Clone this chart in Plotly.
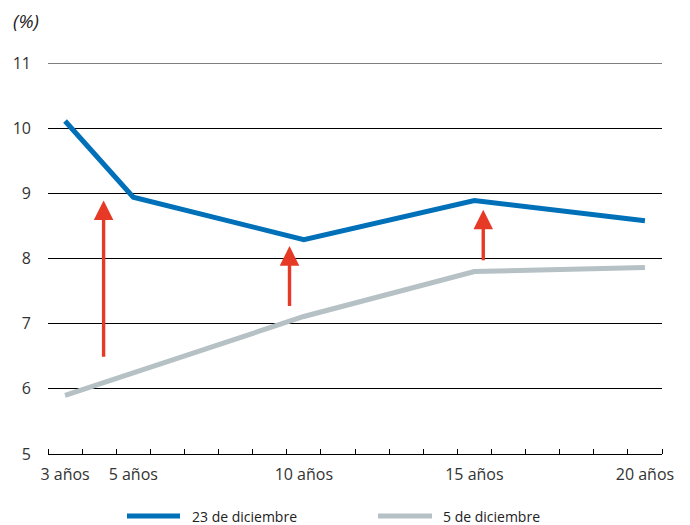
import plotly.graph_objects as go

years = [3, 5, 10, 15, 20]
tick_labels = ["3 años", "5 años", "10 años", "15 años", "20 años"]
series_names = ["23 de diciembre", "5 de diciembre"]
dic23 = [10.11, 8.94, 8.29, 8.89, 8.58]
dic05 = [5.90, 6.24, 7.11, 7.80, 7.86]
y_ticks = [5, 6, 7, 8, 9, 10, 11]

# arrows: (year position, from value, to value)
arrow_x = [4.13, 9.58, 15.26]
arrow_from = [6.47, 7.25, 7.95]
arrow_to = [8.89, 8.19, 8.75]

BLUE = "#0071B9"
GRAY = "#B5C1C4"
RED = "#E63A27"
FONT = "Open Sans"

W, H = 690, 525
L, R, T, B = 48, 28, 63, 71
PW, PH = W - L - R, H - T - B

def px_x(p):
    return (p - L) / PW

def px_y(p):
    return (H - B - p) / PH

fig = go.Figure()
fig.add_trace(go.Scatter(x=years, y=dic23, mode="lines", name=series_names[0],
                         line=dict(color=BLUE, width=5), showlegend=False))
fig.add_trace(go.Scatter(x=years, y=dic05, mode="lines", name=series_names[1],
                         line=dict(color=GRAY, width=5), showlegend=False))

# top gridline (plotly omits gridlines on the range edge)
fig.add_shape(type="line", xref="paper", yref="y", x0=0, x1=1, y0=y_ticks[-1], y1=y_ticks[-1],
              line=dict(color="black", width=1), layer="below")

for x, y0, y1 in zip(arrow_x, arrow_from, arrow_to):
    fig.add_annotation(x=x, y=y1, ax=x, ay=y0, xref="x", yref="y", axref="x", ayref="y",
                       showarrow=True, arrowhead=2, arrowsize=1.15, arrowwidth=3.4,
                       arrowcolor=RED, text="", standoff=0)

fig.add_annotation(x=px_x(11), y=px_y(21), xref="paper", yref="paper", xanchor="left",
                   yanchor="middle", showarrow=False, text="<i>(%)</i>",
                   font=dict(family=FONT, size=19, color="#222"))

# manual legend
leg_y = px_y(516)
for (x0, x1, tx), color, name in zip([(127, 180, 190), (378, 432, 441)], [BLUE, GRAY], series_names):
    fig.add_shape(type="line", xref="paper", yref="paper", x0=px_x(x0), x1=px_x(x1),
                  y0=leg_y, y1=leg_y, line=dict(color=color, width=5))
    fig.add_annotation(x=px_x(tx), y=leg_y, xref="paper", yref="paper", xanchor="left",
                       yanchor="middle", showarrow=False, text=name,
                       font=dict(family=FONT, size=14, color="#222"))

fig.update_layout(
    width=W, height=H,
    margin=dict(l=L, r=R, t=T, b=B),
    paper_bgcolor="white", plot_bgcolor="white",
    font=dict(family=FONT, size=16, color="#333"),
    showlegend=False,
)
fig.update_xaxes(range=[2.5, 20.5], tickvals=years, ticktext=tick_labels, ticks="",
                 showgrid=False, showline=True, linecolor="black", linewidth=1,
                 zeroline=False, ticklabelstandoff=6,
                 minor=dict(tickvals=[v + 0.5 for v in range(2, 21)], ticks="inside",
                            ticklen=5, tickcolor="black", tickwidth=1, showgrid=False),
                 tickfont=dict(family=FONT, size=16, color="#333"))
fig.update_yaxes(range=[y_ticks[0], y_ticks[-1]], tickvals=y_ticks, showgrid=True,
                 gridcolor="black", gridwidth=1, zeroline=False, showline=False,
                 ticks="", ticklabelstandoff=16,
                 tickfont=dict(family=FONT, size=16, color="#333"))

fig.write_html("out.html")
